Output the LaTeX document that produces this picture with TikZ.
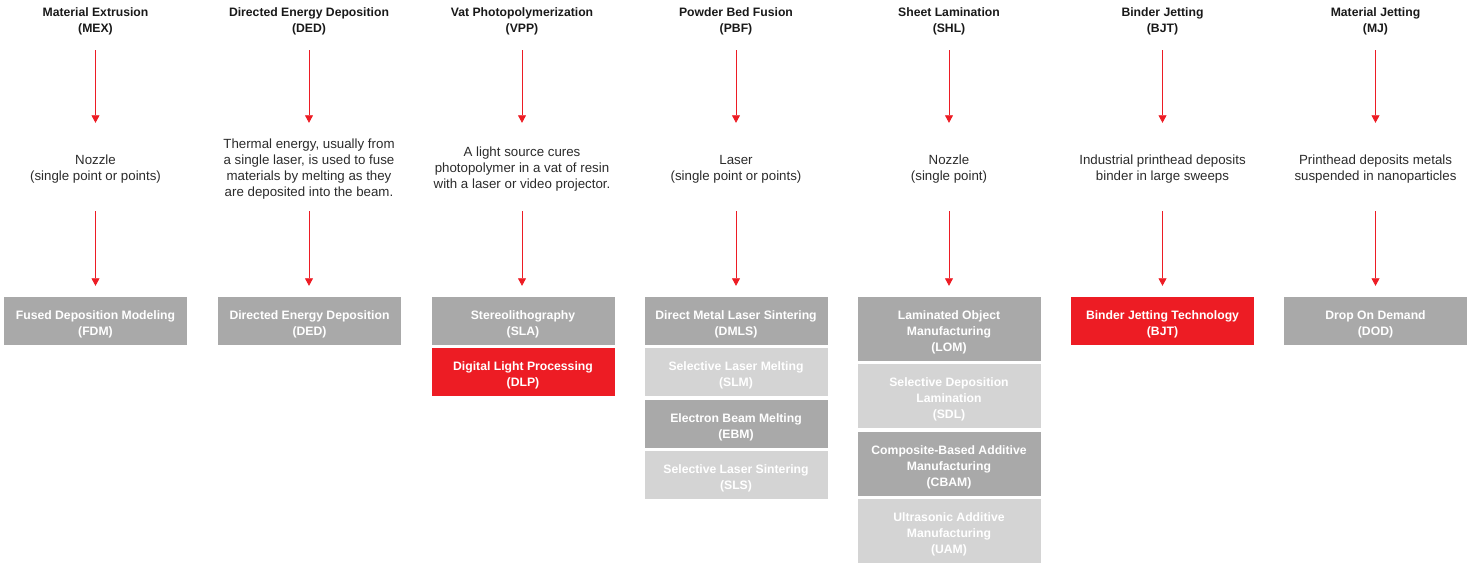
\documentclass[tikz,border=0pt]{standalone}
\usepackage{fontspec}
\setmainfont{Liberation Sans}
\usetikzlibrary{positioning,arrows.meta}
\definecolor{amred}{HTML}{ED1C24}
\definecolor{amdark}{HTML}{A9A9A9}
\definecolor{amlight}{HTML}{D4D4D4}
\definecolor{amtext}{HTML}{2B2B2B}
\begin{document}
\begin{tikzpicture}[x=1pt,y=-1pt,node distance=3pt,
    head/.style={font=\fontsize{12.2}{16}\selectfont\bfseries,text=black!90,align=center,inner sep=0pt,minimum height=32pt},
    src/.style={font=\fontsize{13.3}{16}\selectfont,text=amtext,align=center,inner sep=0pt,minimum height=82pt},
    tech/.style={font=\fontsize{12.2}{16}\selectfont\bfseries,text=white,align=center,inner sep=0pt,minimum width=183pt,minimum height=48pt,
      text height=29pt,text depth=0pt},
    tall/.style={minimum height=64pt,text height=45pt},
    dark/.style={fill=amdark},
    light/.style={fill=amlight},
    hot/.style={fill=amred},
    flow/.style={draw=amred,line width=0.7pt,-{Triangle[width=8pt,length=7.5pt]}},
    tosrc/.style={flow,shorten <=13pt,shorten >=5pt},
    totech/.style={flow,shorten <=1pt,shorten >=11pt}]
  \useasboundingbox (0,0) rectangle (1474,563);
  \draw
    (95.5,21) node[head] (h1){Material Extrusion\\(MEX)}
    (309,21) node[head] (h2){Directed Energy Deposition\\(DED)}
    (522,21) node[head] (h3){Vat Photopolymerization\\(VPP)}
    (736,21) node[head] (h4){Powder Bed Fusion\\(PBF)}
    (949,21) node[head] (h5){Sheet Lamination\\(SHL)}
    (1162.5,21) node[head] (h6){Binder Jetting\\(BJT)}
    (1375.5,21) node[head] (h7){Material Jetting\\(MJ)};
  \draw
    (95.5,169) node[src] (s1){Nozzle\\(single point or points)}
    (309,169) node[src] (s2){Thermal energy, usually from\\a single laser, is used to fuse\\materials by melting as they\\are deposited into the beam.}
    (522,169) node[src] (s3){A light source cures\\photopolymer in a vat of resin\\with a laser or video projector.}
    (736,169) node[src] (s4){Laser\\(single point or points)}
    (949,169) node[src] (s5){Nozzle\\(single point)}
    (1162.5,169) node[src] (s6){Industrial printhead deposits\\binder in large sweeps}
    (1375.5,169) node[src] (s7){Printhead deposits metals\\suspended in nanoparticles};
  % technologies
  \node[tech,dark] (b1) at (95.5,321) {Fused Deposition Modeling\\(FDM)};
  \node[tech,dark] (b2) at (309.5,321) {Directed Energy Deposition\\(DED)};
  \node[tech,dark] (b3) at (523,321) {Stereolithography\\(SLA)};
  \node[tech,hot,below=of b3] (b3b) {Digital Light Processing\\(DLP)};
  \node[tech,dark] (b4) at (736,321) {Direct Metal Laser Sintering\\(DMLS)};
  \node[tech,light,below=of b4] (b4b) {Selective Laser Melting\\(SLM)};
  \node[tech,dark,below=of b4b] (b4c) {Electron Beam Melting\\(EBM)};
  \node[tech,light,below=of b4c] (b4d) {Selective Laser Sintering\\(SLS)};
  \node[tech,tall,dark] (b5) at (949,329) {Laminated Object\\Manufacturing\\(LOM)};
  \node[tech,tall,light,below=of b5] (b5b) {Selective Deposition\\Lamination\\(SDL)};
  \node[tech,tall,dark,below=of b5b] (b5c) {Composite-Based Additive\\Manufacturing\\(CBAM)};
  \node[tech,tall,light,below=of b5c] (b5d) {Ultrasonic Additive\\Manufacturing\\(UAM)};
  \node[tech,hot] (b6) at (1162.5,321) {Binder Jetting Technology\\(BJT)};
  \node[tech,dark] (b7) at (1375.5,321) {Drop On Demand\\(DOD)};
  \begin{scope}
    \draw[tosrc] (h1) to (s1);
    \draw[tosrc] (h2) to (s2);
    \draw[tosrc] (h3) to (s3);
    \draw[tosrc] (h4) to (s4);
    \draw[tosrc] (h5) to (s5);
    \draw[tosrc] (h6) to (s6);
    \draw[tosrc] (h7) to (s7);
    \draw[totech] (s1) to (s1 |- b1.north);
    \draw[totech] (s2) to (s2 |- b2.north);
    \draw[totech] (s3) to (s3 |- b3.north);
    \draw[totech] (s4) to (b4);
    \draw[totech] (s5) to (b5);
    \draw[totech] (s6) to (b6);
    \draw[totech] (s7) to (b7);
  \end{scope}
\end{tikzpicture}
\end{document}
